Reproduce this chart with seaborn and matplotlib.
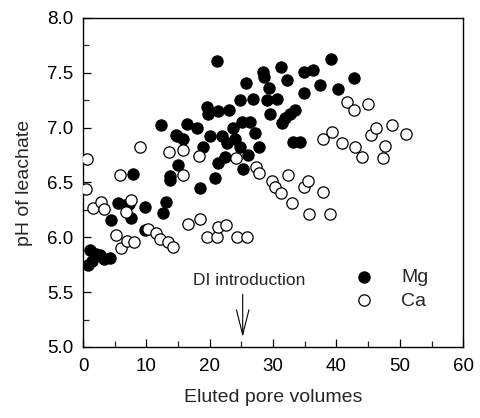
import matplotlib
matplotlib.use("Agg")
import matplotlib.pyplot as plt
import seaborn as sns
import pandas as pd
from matplotlib.ticker import MultipleLocator, FormatStrFormatter

# Mg series (filled circles)
mg_x = [0.8, 1.1, 1.4, 2.0, 2.7, 3.3, 4.3,
        4.4, 5.5, 6.6, 7.2, 7.6, 9.8, 9.8, 12.6, 13.1, 13.7,
        7.9, 12.3, 13.7, 14.7, 15.0, 15.8, 14.9, 16.4, 18.0, 18.5, 19.0,
        19.6, 19.7, 20.1, 20.9, 21.2, 21.3, 21.3, 22.0, 22.4, 22.7, 23.1,
        23.7, 24.0, 24.8, 24.8, 25.1, 25.3, 25.7, 26.1, 26.4, 26.9, 27.2,
        27.7, 28.4, 28.6, 29.1, 29.4, 29.5, 30.6, 31.3, 31.4, 31.9, 32.2,
        32.7, 33.2, 33.5, 34.3, 34.8, 34.9, 36.3, 37.4, 39.2, 40.3, 42.7]
mg_y = [5.75, 5.88, 5.78, 5.85, 5.84, 5.80, 5.81,
        6.16, 6.31, 6.29, 6.30, 6.18, 6.28, 6.07, 6.22, 6.32, 6.52,
        6.58, 7.02, 6.56, 6.93, 6.66, 6.90, 6.92, 7.03, 7.00, 6.45, 6.82,
        7.19, 7.12, 6.92, 6.54, 7.61, 7.15, 6.68, 6.92, 6.73, 6.86, 7.16,
        7.00, 6.90, 7.25, 6.82, 7.05, 6.62, 7.41, 6.75, 7.05, 7.26, 6.95,
        6.82, 7.51, 7.46, 7.25, 7.36, 7.12, 7.26, 7.55, 7.04, 7.09, 7.43,
        7.12, 6.87, 7.16, 6.87, 7.51, 7.32, 7.53, 7.39, 7.63, 7.35, 7.45]

# Ca series (open circles)
ca_x = [0.6, 0.5, 1.6, 2.8, 3.3, 5.2, 5.8, 6.0, 6.8, 7.6, 6.9, 8.1, 9.0,
        10.2, 11.5, 12.2, 13.4, 14.2, 13.6, 15.7, 15.7, 16.6, 18.3, 18.5,
        19.5, 21.2, 21.3, 22.5, 24.2, 24.3, 25.9, 27.3, 27.8, 29.8, 30.3,
        31.3, 32.4, 33.0, 34.8, 35.5, 35.7, 37.9, 38.9, 37.8, 39.3, 40.9,
        41.7, 42.7, 43.0, 44.0, 44.9, 45.5, 46.3, 47.7, 47.4, 48.7, 51.0]
ca_y = [6.71, 6.44, 6.27, 6.32, 6.26, 6.02, 6.57, 5.90, 6.23, 6.34, 5.97, 5.96, 6.82,
        6.08, 6.04, 5.98, 5.96, 5.91, 6.78, 6.80, 6.57, 6.12, 6.74, 6.17,
        6.00, 6.00, 6.09, 6.11, 6.72, 6.00, 6.00, 6.64, 6.59, 6.51, 6.46,
        6.40, 6.57, 6.31, 6.46, 6.51, 6.21, 6.41, 6.21, 6.90, 6.96, 6.86,
        7.23, 7.16, 6.82, 6.73, 7.22, 6.93, 7.00, 6.83, 6.72, 7.02, 6.94]

x_ticks = [0, 10, 20, 30, 40, 50, 60]
y_ticks = [5.0, 5.5, 6.0, 6.5, 7.0, 7.5, 8.0]

sns.set_style("ticks")
plt.rcParams['font.family'] = ['Liberation Sans', 'DejaVu Sans']

fig = plt.figure(figsize=(4.8, 4.18), dpi=100)
ax = fig.add_axes([0.173, 0.170, 0.792, 0.787])

mg = pd.DataFrame({"x": mg_x, "y": mg_y})
ca = pd.DataFrame({"x": ca_x, "y": ca_y})

sns.scatterplot(data=mg, x="x", y="y", ax=ax, s=66, color="black",
                edgecolor="black", linewidth=0.8, label="Mg", zorder=3)
sns.scatterplot(data=ca, x="x", y="y", ax=ax, s=66, facecolor="white",
                edgecolor="black", linewidth=0.9, label="Ca", zorder=4)

ax.set_xlim(0, 60)
ax.set_ylim(5.0, 8.0)
ax.set_xticks(x_ticks)
ax.set_yticks(y_ticks)
ax.yaxis.set_major_formatter(FormatStrFormatter('%.1f'))
ax.xaxis.set_minor_locator(MultipleLocator(5))
ax.yaxis.set_minor_locator(MultipleLocator(0.25))
ax.tick_params(which='major', direction='in', length=6, width=0.9,
               labelsize=13.5, colors='black')
ax.tick_params(which='minor', direction='in', length=4, width=0.9)
ax.tick_params(axis='x', which='major', pad=8)
ax.tick_params(axis='y', which='major', pad=7)
for sp in ax.spines.values():
    sp.set_visible(True)
    sp.set_linewidth(1.0)
    sp.set_color('black')

ax.set_xlabel("Eluted pore volumes", fontsize=14, labelpad=10)
ax.set_ylabel("pH of leachate", fontsize=14, labelpad=10)

ax.text(26.2, 5.61, "DI introduction", fontsize=12.5, ha='center', va='center')
ax.annotate('', xy=(25.2, 5.09), xytext=(25.2, 5.48),
            arrowprops=dict(arrowstyle='->,head_length=1.8,head_width=0.45',
                            lw=0.8, color='black', shrinkA=0, shrinkB=0,
                            mutation_scale=10))

leg = ax.legend(loc='center left', bbox_to_anchor=(0.689, 0.176),
                frameon=False, fontsize=14, handletextpad=0.9,
                borderpad=0, borderaxespad=0, labelspacing=0.3,
                handlelength=2.0)

fig.savefig("out.png", dpi=100)
